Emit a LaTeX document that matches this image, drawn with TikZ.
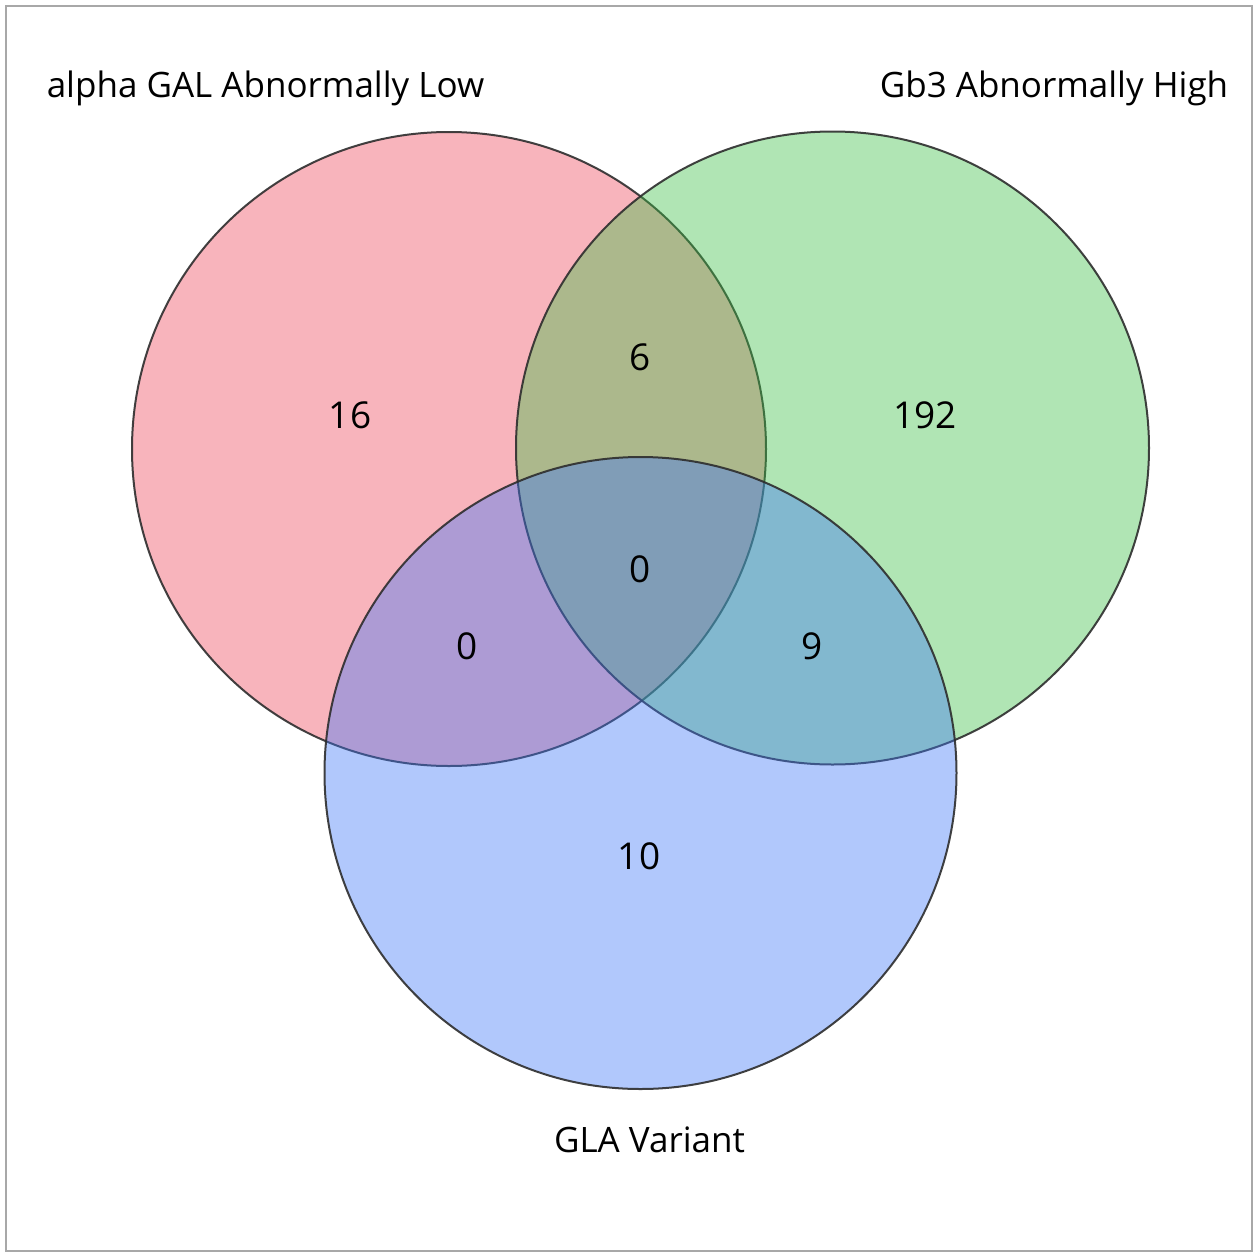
\documentclass[tikz,border=0pt]{standalone}
\usepackage{fontspec}
\setmainfont{Open Sans}
\definecolor{vred}{RGB}{238,68,88}
\definecolor{vgreen}{RGB}{58,192,68}
\definecolor{vblue}{RGB}{62,118,248}
\definecolor{frame}{RGB}{168,168,168}
\definecolor{edge}{RGB}{45,45,45}
\tikzset{
  setcirc/.style={fill opacity=0.4, draw=edge, draw opacity=0.9, line width=1pt},
  setlabel/.style={anchor=base, inner sep=0pt, font=\fontsize{17.5pt}{20pt}\selectfont},
  count/.style={anchor=base, inner sep=0pt, font=\fontsize{18.5pt}{22pt}\selectfont}
}
\begin{document}
\begin{tikzpicture}[x=0.5pt,y=-0.5pt]
\useasboundingbox (0,0) rectangle (1260,1259);
\fill[white] (0,0) rectangle (1260,1259);
\draw[frame, line width=1.3pt] (6,6) rectangle (1252,1251);
\path[setcirc, fill=vred] (449,449) circle [radius=317];
\path[setcirc, fill=vgreen] (832.5,448) circle [radius=316.5];
\path[setcirc, fill=vblue] (640.5,773) circle [radius=316];
\node[setlabel] (la) at (265.5,97) {alpha GAL Abnormally Low};
\node[setlabel] (lb) at (1054,97) {Gb3 Abnormally High};
\node[setlabel] (lc) at (649.5,1152) {GLA Variant};
\node[count] (n100) at (350,428) {16};
\node[count] (n010) at (925,428) {192};
\node[count] (n110) at (640,370) {6};
\node[count] (n111) at (640,582) {0};
\node[count] (n101) at (467,659) {0};
\node[count] (n011) at (812,659) {9};
\node[count] (n001) at (639,869.5) {10};
\end{tikzpicture}
\end{document}
